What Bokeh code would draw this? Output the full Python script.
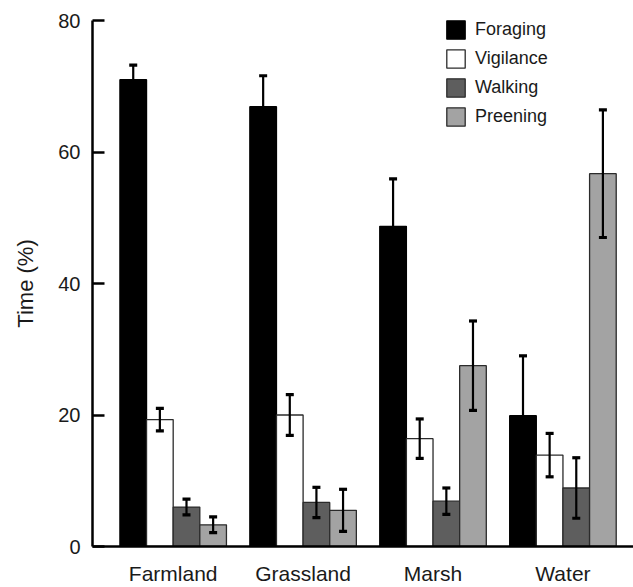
from bokeh.plotting import figure
from bokeh.models import (Range1d, FixedTicker, Whisker, TeeHead, ColumnDataSource,
                          Legend, LegendItem)
from bokeh.embed import file_html
from bokeh.resources import INLINE

habitats = ["Farmland", "Grassland", "Marsh", "Water"]
behaviours = ["Foraging", "Vigilance", "Walking", "Preening"]

foraging = [71.0, 66.9, 48.7, 19.9]
foraging_err = [2.2, 4.7, 7.2, 9.1]
vigilance = [19.3, 20.0, 16.4, 13.9]
vigilance_err = [1.7, 3.1, 3.0, 3.3]
walking = [6.0, 6.7, 6.9, 8.9]
walking_err = [1.2, 2.3, 2.0, 4.6]
preening = [3.3, 5.5, 27.5, 56.7]
preening_err = [1.2, 3.2, 6.8, 9.7]

y_ticks = [0, 20, 40, 60, 80]

series = [foraging, vigilance, walking, preening]
errors = [foraging_err, vigilance_err, walking_err, preening_err]
fills = ["#000000", "#ffffff", "#5e5e5e", "#a3a3a3"]
outlines = ["#000000", "#2b2b2b", "#2b2b2b", "#2b2b2b"]

FONT = "Liberation Sans"
bar_w = 0.205
offsets = [-1.5 * bar_w, -0.5 * bar_w, 0.5 * bar_w, 1.5 * bar_w]
group_pos = [i + 1 for i in range(len(habitats))]

p = figure(width=633, height=587, output_backend="svg", toolbar_location=None,
           x_range=Range1d(0.379, 4.543), y_range=Range1d(0, 80),
           min_border_left=92, min_border_right=0, min_border_top=20,
           min_border_bottom=40)
p.grid.visible = False
p.outline_line_color = None
p.background_fill_color = "white"
p.border_fill_color = "white"

renderers = []
for k, name in enumerate(behaviours):
    xs = [g + offsets[k] for g in group_pos]
    vals = series[k]
    errs = errors[k]
    src = ColumnDataSource(dict(
        x=xs, top=vals,
        upper=[v + e for v, e in zip(vals, errs)],
        lower=[v - e for v, e in zip(vals, errs)],
    ))
    r = p.vbar(x="x", top="top", width=bar_w, bottom=0, source=src,
               fill_color=fills[k], line_color=outlines[k], line_width=1.3)
    renderers.append(r)
    w = Whisker(base="x", upper="upper", lower="lower", source=src,
                line_color="#000000", line_width=2.2, level="annotation",
                upper_head=TeeHead(size=8, line_width=3.2, line_color="#000000"),
                lower_head=TeeHead(size=8, line_width=3.2, line_color="#000000"))
    p.add_layout(w)

legend = Legend(items=[LegendItem(label=behaviours[k], renderers=[renderers[k]])
                       for k in range(4)],
                location=(352, 418.5), orientation="vertical",
                glyph_width=23, glyph_height=23, label_height=23, spacing=6,
                label_standoff=8, padding=0, margin=0,
                border_line_alpha=0, background_fill_alpha=0,
                label_text_font=FONT, label_text_font_size="18px",
                label_text_color="#1a1a1a")
p.add_layout(legend, "center")

xa = p.xaxis[0]
xa.ticker = FixedTicker(ticks=group_pos)
xa.major_label_overrides = {g: h for g, h in zip(group_pos, habitats)}
xa.major_tick_line_color = None
xa.minor_tick_line_color = None
xa.axis_line_width = 2.5
xa.axis_line_color = "#000000"
xa.major_label_text_font = FONT
xa.major_label_text_font_size = "21px"
xa.major_label_text_color = "#1a1a1a"
xa.major_label_standoff = 9

ya = p.yaxis[0]
ya.ticker = FixedTicker(ticks=y_ticks)
ya.major_tick_in = 12
ya.major_tick_out = 0
ya.major_tick_line_width = 2.5
ya.minor_tick_line_color = None
ya.axis_line_width = 2.5
ya.axis_line_color = "#000000"
ya.major_label_text_font = FONT
ya.major_label_text_font_size = "20px"
ya.major_label_text_color = "#1a1a1a"
ya.major_label_standoff = 12
ya.axis_label = "Time (%)"
ya.axis_label_text_font = FONT
ya.axis_label_text_font_size = "22px"
ya.axis_label_text_font_style = "normal"
ya.axis_label_text_color = "#1a1a1a"
ya.axis_label_standoff = 17

open("out.html", "w").write(file_html(p, INLINE))
